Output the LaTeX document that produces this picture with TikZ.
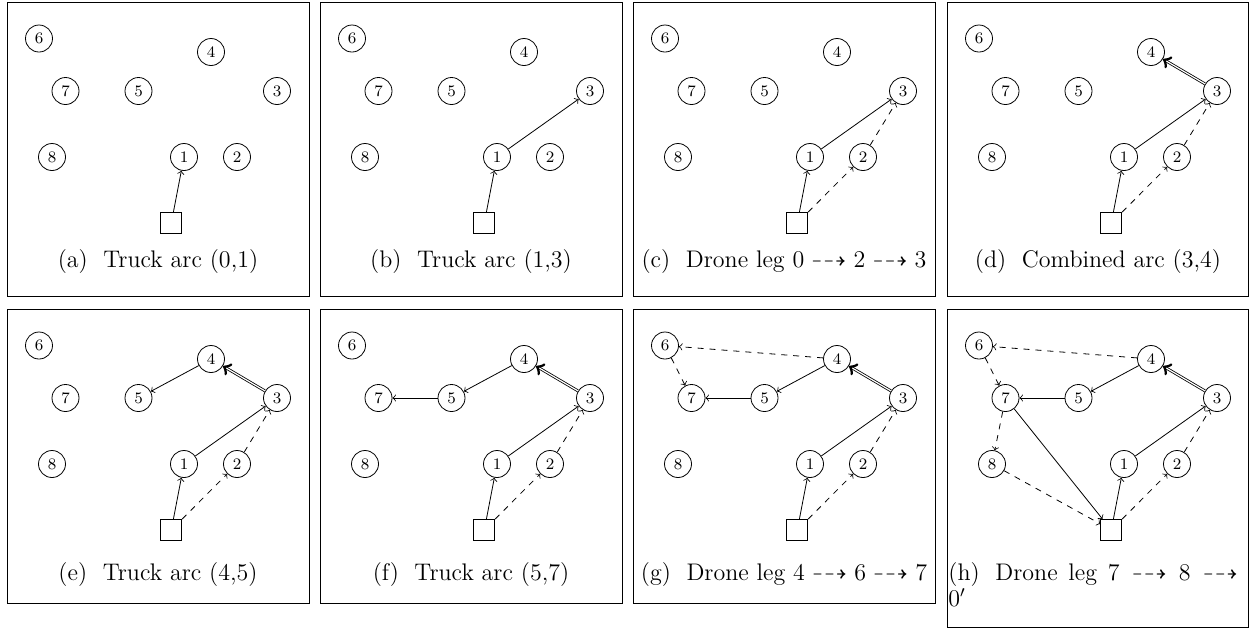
\documentclass[tikz,border=0pt]{standalone}
\usepackage{amssymb}
\tikzset{
  cust/.style={circle, draw, line width=0.4pt, minimum size=13.5pt, inner sep=0pt,
    font=\fontsize{8}{9}\selectfont},
  depot/.style={rectangle, draw, line width=0.4pt, minimum size=10.5pt, inner sep=0pt},
  frame/.style={draw, line width=0.45pt},
  truck/.style={->, line width=0.4pt},
  drone/.style={->, dashed, line width=0.4pt},
  combined/.style={->, double, line width=0.4pt},
  capt/.style={font=\fontsize{12}{14.5}\selectfont, anchor=base, inner sep=0pt},
}
% customer and depot nodes of one panel, named <prefix>-<index>
\newcommand{\custnodes}[1]{%
  \node[cust] (#1-6) at (32,36.5) {6};
  \node[cust] (#1-4) at (204,50) {4};
  \node[cust] (#1-7) at (58.5,89) {7};
  \node[cust] (#1-5) at (131.5,89) {5};
  \node[cust] (#1-3) at (270,89) {3};
  \node[cust] (#1-8) at (45,155) {8};
  \node[cust] (#1-1) at (177,155) {1};
  \node[cust] (#1-2) at (230,155) {2};
  \node[depot] (#1-0) at (164.3,221) {};
}
% arcs built up to a given step
\newcommand{\routearcs}[2]{%
  \draw[truck] (#1-0) -- (#1-1);
  \ifnum#2>1 \draw[truck] (#1-1) -- (#1-3);\fi
  \ifnum#2>2 \draw[drone] (#1-0) -- (#1-2); \draw[drone] (#1-2) -- (#1-3);\fi
  \ifnum#2>3 \draw[combined] (#1-3) -- (#1-4);\fi
  \ifnum#2>4 \draw[truck] (#1-4) -- (#1-5);\fi
  \ifnum#2>5 \draw[truck] (#1-5) -- (#1-7);\fi
  \ifnum#2>6 \draw[drone] (#1-4) -- (#1-6); \draw[drone] (#1-6) -- (#1-7);\fi
  \ifnum#2>7 \draw[truck] (#1-7) -- (#1-0); \draw[drone] (#1-7) -- (#1-8); \draw[drone] (#1-8) -- (#1-0);\fi
}
% sub-caption: label, gap, text
\newcommand{\sublabel}[2]{#1\hspace{7.8pt}#2}
% caption line spread to a given width
\newcommand{\captline}[2]{\makebox[#1][s]{#2}}
\newcommand{\dleg}{\mathrel{\dashrightarrow}}
\begin{document}
\begin{tikzpicture}[x=0.5pt, y=-0.5pt]
\useasboundingbox (0,0) rectangle (1255,629);
% top row
\begin{scope}[shift={(7,2)}]
  \draw[frame] (0,0) rectangle (302,294.5);
  \custnodes{a} \routearcs{a}{1}
  \node[capt] (ca) at (151,265.5) {\sublabel{(a)}{Truck arc (0,1)}};
\end{scope}
\begin{scope}[shift={(320,2)}]
  \draw[frame] (0,0) rectangle (302,294.5);
  \custnodes{b} \routearcs{b}{2}
  \node[capt] (cb) at (151,265.5) {\sublabel{(b)}{Truck arc (1,3)}};
\end{scope}
\begin{scope}[shift={(633,2)}]
  \draw[frame] (0,0) rectangle (302,294.5);
  \custnodes{c} \routearcs{c}{3}
  \node[capt] (cc) at (151,265.5) {\sublabel{(c)}{Drone leg $0\dleg 2\dleg 3$}};
\end{scope}
\begin{scope}[shift={(947,2)}]
  \draw[frame] (0,0) rectangle (301,294.5);
  \custnodes{d} \routearcs{d}{4}
  \node[capt] (cd) at (151,265.5) {\sublabel{(d)}{Combined arc (3,4)}};
\end{scope}
% bottom row
\begin{scope}[shift={(7,309)}]
  \draw[frame] (0,0) rectangle (302,294);
  \custnodes{e} \routearcs{e}{5}
  \node[capt] (ce) at (151,271.5) {\sublabel{(e)}{Truck arc (4,5)}};
\end{scope}
\begin{scope}[shift={(320,309)}]
  \draw[frame] (0,0) rectangle (302,294);
  \custnodes{f} \routearcs{f}{6}
  \node[capt] (cf) at (151,271.5) {\sublabel{(f)}{Truck arc (5,7)}};
\end{scope}
\begin{scope}[shift={(633,309)}]
  \draw[frame] (0,0) rectangle (302,294);
  \custnodes{g} \routearcs{g}{7}
  \node[capt] (cg) at (151,271.5) {\sublabel{(g)}{Drone leg $4\dleg 6\dleg 7$}};
\end{scope}
\begin{scope}[shift={(947,309)}]
  \draw[frame] (0,0) rectangle (301,318.5);
  \custnodes{h} \routearcs{h}{8}
  % two-line caption, the first line spread to the full width
  \node[capt, font=\fontsize{12}{12.8}\selectfont, align=left, anchor=north west]
    (ch) at (1,253) {\captline{145pt}{\sublabel{(h)}{Drone leg $7\dleg 8\dleg$}}\\$0'$};
\end{scope}
\end{tikzpicture}
\end{document}
